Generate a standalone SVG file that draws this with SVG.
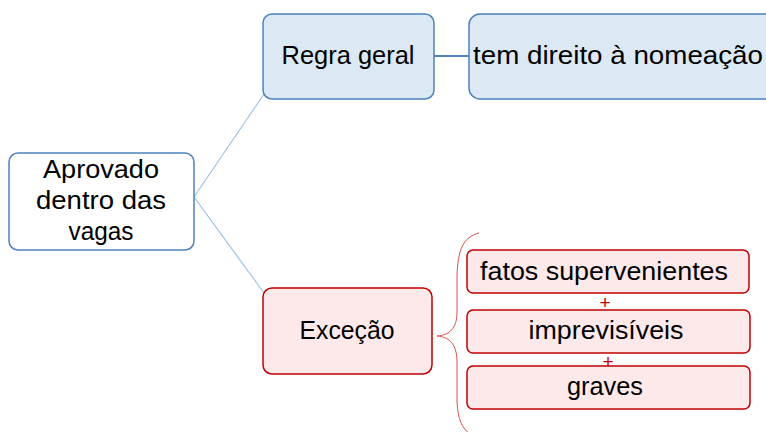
<svg xmlns="http://www.w3.org/2000/svg" width="766" height="432" viewBox="0 0 766 432">
<style>
text{font-family:"Liberation Sans",Arial,sans-serif;font-size:25px;fill:#000;text-anchor:middle}
.blue{fill:#dce9f5;stroke:#4f81bd;stroke-width:1.5}
.white{fill:#fff;stroke:#4f81bd;stroke-width:1.5}
.red{fill:#fde9ea;stroke:#c00000;stroke-width:1.5}
.plus{fill:#c00000;font-size:19px}
</style>
<rect width="766" height="432" fill="#fff"/>
<g id="connectors" fill="none">
<line x1="194" y1="197" x2="264" y2="94" stroke="#9dc3e6" stroke-width="1.2"/>
<line x1="194" y1="197" x2="264" y2="293" stroke="#9dc3e6" stroke-width="1.2"/>
<line x1="434" y1="56" x2="469" y2="56" stroke="#4f81bd" stroke-width="2"/>
<path d="M479,233 C463,237 458,250 457,275 L457,312 C457,328 450,335 437,336 C450,337 457,345 457,362 L457,402 C458,420 462,428 470,434" stroke="#d9534f" stroke-width="1"/>
</g>
<g id="aprovado">
<rect class="white" x="9" y="153" width="185" height="97" rx="9"/>
<text x="101" y="178" textLength="116" lengthAdjust="spacingAndGlyphs">Aprovado</text>
<text x="101" y="209" textLength="130" lengthAdjust="spacingAndGlyphs">dentro das</text>
<text x="101" y="240" textLength="65" lengthAdjust="spacingAndGlyphs">vagas</text>
</g>
<g id="regra">
<rect class="blue" x="263" y="14" width="171" height="85" rx="9"/>
<text x="348" y="64" textLength="133" lengthAdjust="spacingAndGlyphs">Regra geral</text>
</g>
<g id="direito">
<rect class="blue" x="469" y="14" width="310" height="85" rx="11"/>
<text x="618" y="64" textLength="290" lengthAdjust="spacingAndGlyphs">tem direito à nomeação</text>
</g>
<g id="excecao">
<rect class="red" x="263" y="288" width="169" height="86" rx="9"/>
<text x="347" y="339" textLength="95" lengthAdjust="spacingAndGlyphs">Exceção</text>
</g>
<g id="fatos">
<rect class="red" x="467" y="250" width="282" height="43" rx="6"/>
<text x="604" y="280" textLength="248" lengthAdjust="spacingAndGlyphs">fatos supervenientes</text>
</g>
<g id="imprevisiveis">
<rect class="red" x="467" y="310" width="283" height="43" rx="6"/>
<text x="606" y="339" textLength="155" lengthAdjust="spacingAndGlyphs">imprevisíveis</text>
</g>
<g id="graves">
<rect class="red" x="467" y="366" width="283" height="43" rx="6"/>
<text x="605" y="395" textLength="76" lengthAdjust="spacingAndGlyphs">graves</text>
</g>
<g id="plus">
<text class="plus" x="605" y="309">+</text>
<text class="plus" x="608" y="368">+</text>
</g>
</svg>
